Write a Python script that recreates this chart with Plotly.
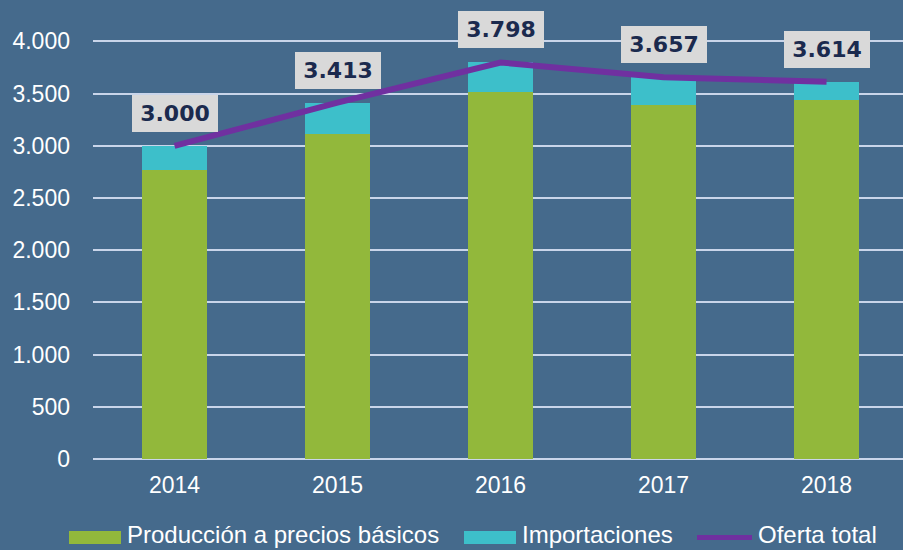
import plotly.graph_objects as go

years = ["2014", "2015", "2016", "2017", "2018"]
produccion = [2770, 3112, 3511, 3387, 3441]
importaciones = [230, 301, 287, 270, 173]
oferta_total = [3000, 3413, 3798, 3657, 3614]
total_labels = ["3.000", "3.413", "3.798", "3.657", "3.614"]
y_tickvals = [0, 500, 1000, 1500, 2000, 2500, 3000, 3500, 4000]
y_ticktext = ["0", "500", "1.000", "1.500", "2.000", "2.500", "3.000", "3.500", "4.000"]

BG = "#456a8c"
GREEN = "#92b83b"
TEAL = "#3dbfca"
PURPLE = "#7030a0"
GRID = "#c9d5ea"
FONT = "Liberation Sans, Arial, sans-serif"

W, H = 903, 550
ML, MR, MT, MB = 93, 0, 0, 91
PW, PH = W - ML - MR, H - MT - MB


def px(x):
    return (x - ML) / PW


def py(y):
    return (H - MB - y) / PH


fig = go.Figure()
fig.add_trace(go.Bar(x=years, y=produccion, name="Producción a precios básicos",
                     marker=dict(color=GREEN, line=dict(width=0)), width=0.4))
fig.add_trace(go.Bar(x=years, y=importaciones, name="Importaciones",
                     marker=dict(color=TEAL, line=dict(width=0)), width=0.4))
fig.add_trace(go.Scatter(x=years, y=oferta_total, name="Oferta total", mode="lines",
                         line=dict(color=PURPLE, width=6)))

annotations = []
for i, (tot, lab) in enumerate(zip(oferta_total, total_labels)):
    annotations.append(dict(
        x=i, y=tot, xref="x", yref="y", text=lab, showarrow=False,
        yanchor="bottom", xanchor="center", yshift=14,
        font=dict(family="DejaVu Sans, sans-serif", size=22, color="#1b2a4e",
                  weight="bold"),
        bgcolor="#d9d9d9", bordercolor="rgba(0,0,0,0)", borderwidth=0,
        borderpad=4, width=78, height=29,
    ))

# custom legend
legend_items = [
    ("Producción a precios básicos", GREEN, "rect", 69, 121),
    ("Importaciones", TEAL, "rect", 464, 516),
    ("Oferta total", PURPLE, "line", 697, 752),
]
shapes = []
for name, col, kind, x0, x1 in legend_items:
    if kind == "rect":
        shapes.append(dict(type="rect", xref="paper", yref="paper",
                           x0=px(x0), x1=px(x1), y0=py(544), y1=py(531),
                           fillcolor=col, line=dict(width=0)))
    else:
        shapes.append(dict(type="line", xref="paper", yref="paper",
                           x0=px(x0), x1=px(x1), y0=py(537.5), y1=py(537.5),
                           line=dict(color=col, width=5)))
    annotations.append(dict(
        x=px(x1 + 4), y=py(534), xref="paper", yref="paper", text=name,
        showarrow=False, xanchor="left", yanchor="middle",
        font=dict(family=FONT, size=24, color="white"),
    ))

fig.update_layout(
    width=W, height=H,
    margin=dict(l=ML, r=MR, t=MT, b=MB, pad=0),
    paper_bgcolor=BG, plot_bgcolor=BG,
    barmode="stack", showlegend=False,
    font=dict(family=FONT, size=23, color="white"),
    annotations=annotations, shapes=shapes,
    xaxis=dict(type="category", range=[-0.5, 4.469], showgrid=False,
               showline=False, zeroline=False, ticks="", ticklabelstandoff=10,
               tickfont=dict(size=23, color="white", family=FONT), fixedrange=True),
    yaxis=dict(range=[0, PH / 0.1044], tickvals=y_tickvals, ticktext=y_ticktext,
               showgrid=True, gridcolor=GRID, gridwidth=2, zeroline=True,
               zerolinecolor=GRID, zerolinewidth=2, showline=False, ticks="",
               ticklabelstandoff=22,
               tickfont=dict(size=23, color="white", family=FONT), fixedrange=True),
)

fig.write_html("out.html", config={"displayModeBar": False},
               post_script="document.body.style.margin='0';document.body.style.overflow='hidden';")
